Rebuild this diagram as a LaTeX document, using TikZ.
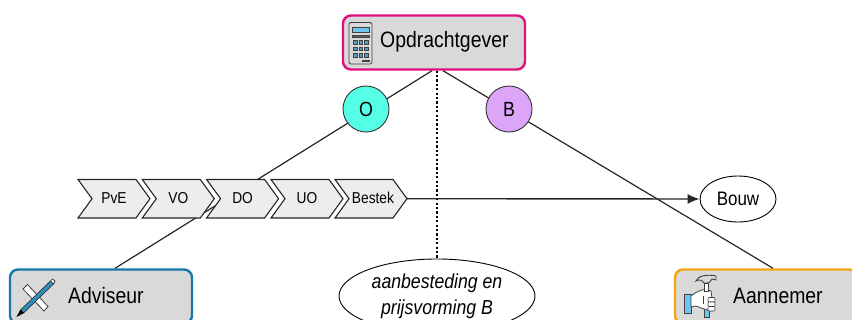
\documentclass[tikz,border=0pt]{standalone}
\usepackage{fontspec}
\setmainfont[FakeStretch=0.87]{Liberation Sans}
\usetikzlibrary{shapes.geometric,arrows.meta}
\definecolor{boxgray}{HTML}{D9D9D9}
\definecolor{chev}{HTML}{EDEDED}
\definecolor{mag}{HTML}{E0107C}
\definecolor{blu}{HTML}{1478A8}
\definecolor{ora}{HTML}{F2A50F}
\definecolor{lb}{HTML}{6CC5EE}
\definecolor{oc}{HTML}{55FFE5}
\definecolor{bc}{HTML}{DDA5F8}
\tikzset{
 x=1pt,y=-1pt,
 role/.style={draw,line width=2.4pt,fill=boxgray,rounded corners=8pt,minimum width=182pt,minimum height=54pt,inner sep=0pt},
 lab/.style={font=\fontsize{22.3pt}{24pt}\selectfont,text=black,inner sep=0pt},
 circ/.style={circle,draw=black!80,line width=.9pt,minimum size=46pt,inner sep=0pt,font=\fontsize{20.5pt}{22pt}\selectfont},
 conn/.style={draw=black!85,line width=1.2pt},
 chevlab/.style={font=\fontsize{15.8pt}{18pt}\selectfont,inner sep=0pt},
 chevshape/.style={draw=black!85,fill=chev,line width=1.1pt,line join=miter},
 oval/.style={ellipse,draw=black,line width=.9pt,inner sep=0pt,fill=white},
 ic/.style={draw=black!75,line width=.6pt},
}
\newcommand{\chevron}[3]{%
 \draw[chevshape] (#1,179.5) -- (#1+58,179.5) -- (#1+72,198.7) -- (#1+58,218) -- (#1,218) -- (#1+14,198.7) -- cycle;
 \node[chevlab] (#3) at (#1+36,198) {#2};}
\begin{document}
\begin{tikzpicture}
\useasboundingbox (0,0) rectangle (852,320);
\begin{scope}
\clip (0,0) rectangle (852,320);
\node[role,draw=mag] (opd) at (434,42.5) {};
\node[role,draw=blu] (adv) at (101,296.5) {};
\node[role,draw=ora] (aan) at (766,296.5) {};
\node[oval,minimum width=196pt,minimum height=74pt,align=center,font=\fontsize{20.3pt}{26pt}\selectfont\itshape] (prijs) at (437,296) {aanbesteding en\\prijsvorming B};
\node[oval,minimum width=76pt,minimum height=46pt,font=\fontsize{19.5pt}{22pt}\selectfont] (bouw) at (738,199) {Bouw};

\draw[conn] ([xshift=-2]opd.south) -- ([xshift=14]adv.north);
\draw[conn] ([xshift=9]opd.south) -- ([xshift=7]aan.north);
\draw[draw=black,line width=1.3pt,dash pattern=on 2.2pt off 2.2pt] ([xshift=3]opd.south) -- (prijs.north);

\node[circ,fill=oc] (o) at (366,109) {O};
\node[circ,fill=bc] (b) at (509,109) {B};

\chevron{78}{PvE}{c1}
\chevron{142.3}{VO}{c2}
\chevron{206.6}{DO}{c3}
\chevron{271}{UO}{c4}
\draw[chevshape] (335,179.5) -- (393,179.5) -- (407,198.7) -- (393,218) -- (335,218) -- (349,198.7) -- cycle;
\node[chevlab] (c5) at (373,198) {Bestek};
\coordinate (tip) at (407,198.7);
\draw[conn,line width=1.4pt,-{Latex[length=12pt,width=10pt]}] (tip) -- (bouw.west);

\node[lab,anchor=west] (t1) at (380,41.5) {Opdrachtgever};
\node[lab,anchor=west] (t2) at (68,295.5) {Adviseur};
\node[lab,anchor=west] (t3) at (733,295.5) {Aannemer};

% calculator
\draw[ic,fill=boxgray,rounded corners=1.5pt,line width=.9pt] (349,22.5) rectangle (372,64);
\draw[ic,fill=lb] (352,27.5) rectangle (369.5,32.5);
\draw[ic,fill=black!60] (352,35) rectangle (369.5,37);
\foreach \r in {0,1,2}\foreach \c in {0,1,2}
  \draw[ic,fill=lb!80!black,line width=.5pt] (353.5+5.5*\c,40.5+6.3*\r) rectangle +(3.4,3.8);
\draw[ic,fill=black!50] (362,60) rectangle (369.5,61.5);

% ruler and pencil
\draw[ic,fill=white,line width=.8pt] (23,289) -- (27.5,284.5) -- (48,306.5) -- (44,311) -- cycle;
\draw[draw=black!80,fill=blu!70!lb,line width=.7pt] (20.5,310) -- (50.5,281) -- (53.5,284) -- (23.5,313) -- cycle;
\draw[draw=black,fill=black] (20.5,310) -- (23.5,313) -- (17,316.5) -- cycle;
\draw[draw=black!80,fill=white,line width=.7pt] (50.5,281) -- (52.5,279) -- (55,281) -- (53.5,284) -- cycle;

% hammer and hand
\draw[ic,fill=lb,line width=.8pt] (684,294.5) rectangle (691,313);
\draw[ic,fill=lb,line width=.8pt] (704,304) rectangle (709,317.5);
\draw[ic,fill=white,line width=.8pt] (691,296) .. controls (698,290) and (706,288) .. (711,291) -- (712,298) -- (712,311) -- (704,309) -- (696,306) -- (691,307) -- cycle;
\draw[ic,line width=.8pt] (703,296) -- (703,304);
\draw[ic,fill=white,line width=.7pt] (704,283) rectangle (708,291);
\draw[ic,fill=boxgray,line width=.9pt] (696,281) .. controls (698,276) and (706,274) .. (716,276) -- (716,280) -- (712,279) .. controls (711,282) and (709,282) .. (708,283) -- (704,283) .. controls (702,280) and (699,279) .. (696,281) -- cycle;
\foreach \y in {297.5,302,306.5} \draw[ic,fill=white,rounded corners=1pt] (708,\y) rectangle (715,\y+4.5);
\end{scope}
\end{tikzpicture}
\end{document}
